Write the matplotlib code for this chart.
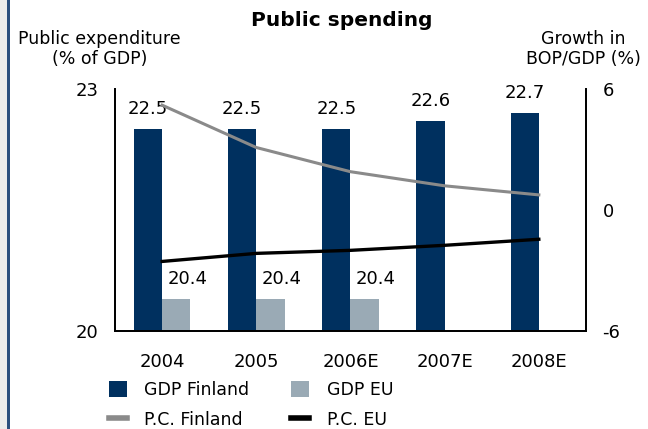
import matplotlib
matplotlib.use('Agg')
import matplotlib.pyplot as plt
import numpy as np
from matplotlib.patches import Rectangle, Patch
from matplotlib.lines import Line2D

YEARS = ['2004', '2005', '2006E', '2007E', '2008E']
GDP_FINLAND = [22.5, 22.5, 22.5, 22.6, 22.7]
GDP_EU = [20.4, 20.4, 20.4]
PC_FINLAND = [5.2, 3.1, 1.9, 1.2, 0.75]
PC_EU = [-2.55, -2.15, -2.0, -1.75, -1.45]

NAVY = '#00305f'
GREYBLUE = '#9aaab5'
LINE_GREY = '#8a8a8a'

plt.rcParams['font.family'] = ['DejaVu Sans']
plt.rcParams['axes.unicode_minus'] = False

fig = plt.figure(figsize=(6.48, 4.29), dpi=100)
ax = fig.add_axes([0.1775, 0.2284, 0.7267, 0.5641])
ax2 = ax.twinx()

x = np.arange(len(YEARS))
w = 0.30
ax.bar(x - w / 2, [v - 20 for v in GDP_FINLAND], w, bottom=20, color=NAVY, zorder=2)
xe = x[:len(GDP_EU)]
ax.bar(xe + w / 2, [v - 20 for v in GDP_EU], w, bottom=20, color=GREYBLUE, zorder=2)

for xi, v in zip(x, GDP_FINLAND):
    ax.annotate(f'{v:.1f}', (xi - w / 2, v), textcoords='offset points', xytext=(0, 8),
                ha='center', va='bottom', fontsize=13)
for xi, v in zip(xe, GDP_EU):
    ax.annotate(f'{v:.1f}', (xi + w / 2, v), textcoords='offset points', xytext=(8, 8),
                ha='center', va='bottom', fontsize=13)

ax2.plot(x, PC_FINLAND, color=LINE_GREY, lw=2.2, zorder=3)
ax2.plot(x, PC_EU, color='black', lw=2.4, zorder=3)

ax.set_xlim(-0.5, 4.5)
ax.set_ylim(20, 23)
ax.set_yticks([20, 23])
ax2.set_ylim(-6, 6)
ax2.set_yticks([-6, 0, 6])
ax.set_xticks(x)
ax.set_xticklabels(YEARS)

for a in (ax, ax2):
    a.tick_params(length=0, labelsize=13)
    a.spines['top'].set_visible(False)
    for s in ('left', 'right', 'bottom'):
        a.spines[s].set_linewidth(1.3)
ax.tick_params(axis='y', pad=12)
ax.tick_params(axis='x', pad=16)
ax2.tick_params(axis='y', pad=12)

fig.text(0.528, 0.953, 'Public spending', ha='center', va='center',
         fontsize=14.5, fontweight='bold')
fig.text(0.154, 0.885, 'Public expenditure\n(% of GDP)', ha='center', va='center',
         fontsize=12.5, multialignment='center', linespacing=1.15)
fig.text(0.900, 0.885, 'Growth in\nBOP/GDP (%)', ha='center', va='center',
         fontsize=12.5, multialignment='center', linespacing=1.15)

handles = [
    Patch(facecolor=NAVY, label='GDP Finland'),
    Line2D([], [], color=LINE_GREY, lw=4, label='P.C. Finland'),
    Patch(facecolor=GREYBLUE, label='GDP EU'),
    Line2D([], [], color='black', lw=4, label='P.C. EU'),
]
fig.legend(handles=handles, ncol=2, loc='upper left', bbox_to_anchor=(0.168, 0.112),
           frameon=False, fontsize=12.5, handlelength=1.05, handleheight=1.05,
           handletextpad=1.0, columnspacing=2.4, labelspacing=0.7,
           borderaxespad=0, borderpad=0)

# frame strip at the left edge
fig.add_artist(Rectangle((0, 0), 7 / 648, 1, transform=fig.transFigure,
                         facecolor='#ececec', edgecolor='none'))
fig.add_artist(Rectangle((7 / 648, 0), 3 / 648, 1, transform=fig.transFigure,
                         facecolor='#2b4f7e', edgecolor='none'))

fig.savefig('out.png', dpi=100, facecolor='white')
